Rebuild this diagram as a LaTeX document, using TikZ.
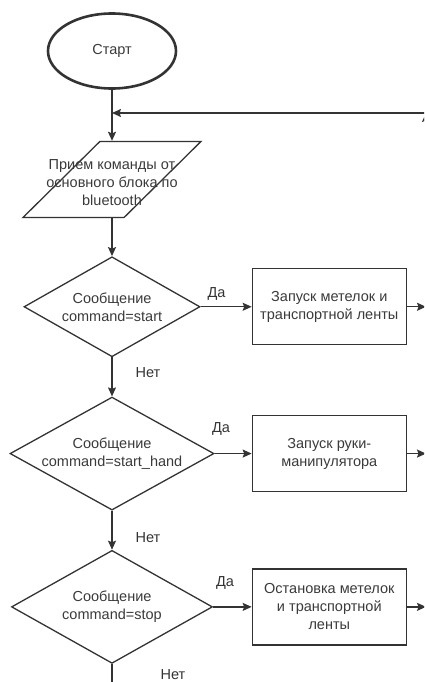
\documentclass[tikz,border=0pt]{standalone}
\usepackage{fontspec}
\setmainfont{Liberation Sans}
\usetikzlibrary{arrows.meta,positioning,shapes.geometric}
\definecolor{LineGray}{HTML}{333333}
\definecolor{TextGray}{HTML}{3A3A3A}

\begin{document}
\begin{tikzpicture}[
x=1pt,y=-1pt,
font=\fontsize{14.5}{18}\selectfont,
text=TextGray,
term/.style={draw=LineGray,ellipse,line width=2.6pt,minimum width=128pt,minimum height=75pt},
io/.style={draw=LineGray,trapezium,trapezium left angle=60,trapezium right angle=120,trapezium stretches=true,line width=1.3pt,minimum width=178pt,minimum height=76pt,inner sep=2pt},
cond/.style={draw=LineGray,diamond,aspect=1.8,line width=1.3pt,inner sep=-6pt,align=center},
proc/.style={draw=LineGray,rectangle,line width=1.3pt,minimum width=154pt,minimum height=76pt,align=center},
arr/.style={-{Stealth[length=9pt,width=8pt,inset=1.5pt]},line width=1.4pt,LineGray},
wire/.style={line width=1.4pt,LineGray}
]
\useasboundingbox (0,0) rectangle (424,682);
\clip (0,0) rectangle (424,682);

\node[term] (start) at (112,51) {Старт};
\node[io,below=51pt of start,label={[align=center,yshift=-3pt]center:{Прием команды от\\основного блока по\\bluetooth}}] (recv) {\strut};
\node[cond,below=38pt of recv,minimum width=176pt,minimum height=100pt] (isstart) {Сообщение\\command=start};
\node[cond,below=39pt of isstart,minimum width=204pt,minimum height=113pt] (ishand) {Сообщение\\command=start\_hand};
\node[cond,below=39pt of ishand,minimum width=201pt,minimum height=113pt] (isstop) {Сообщение\\command=stop};
\node[proc,right=51pt of isstart] (runbelt) {Запуск метелок и\\транспортной ленты};
\node[proc] (runarm) at (runbelt |- ishand) {Запуск руки-\\манипулятора};
\node[proc] (stopbelt) at (runbelt |- isstop) {Остановка метелок\\и транспортной\\ленты};

% loop back
\coordinate (rtop) at (426,113);
\coordinate (rbot) at (426,700);
\coordinate (loop) at (start.south |- rtop);

\draw[arr] (start) -- (recv);
\draw[arr] (rbot) -- (rtop);
\draw[arr] (rtop) -- (loop);
\draw[arr] (recv) -- (isstart);
\draw[arr] (isstart) -- node[pos=.38,xshift=36pt] {Нет} (ishand);
\draw[arr] (ishand) -- node[pos=.69,xshift=36pt] {Нет} (isstop);
\draw[wire] (isstop) -- node[pos=.29,xshift=61pt] {Нет} (isstop |- rbot);
\draw[arr] (isstart) -- node[pos=.31,yshift=13pt] {Да} (runbelt);
\draw[arr] (ishand) -- node[pos=.17,yshift=25pt] {Да} (runarm);
\draw[arr] (isstop) -- node[pos=.31,yshift=24pt] {Да} (stopbelt);
\draw[arr] (runbelt) -- (runbelt -| rtop);
\draw[arr] (runarm) -- (runarm -| rtop);
\draw[arr] (stopbelt) -- (stopbelt -| rtop);
\end{tikzpicture}
\end{document}
